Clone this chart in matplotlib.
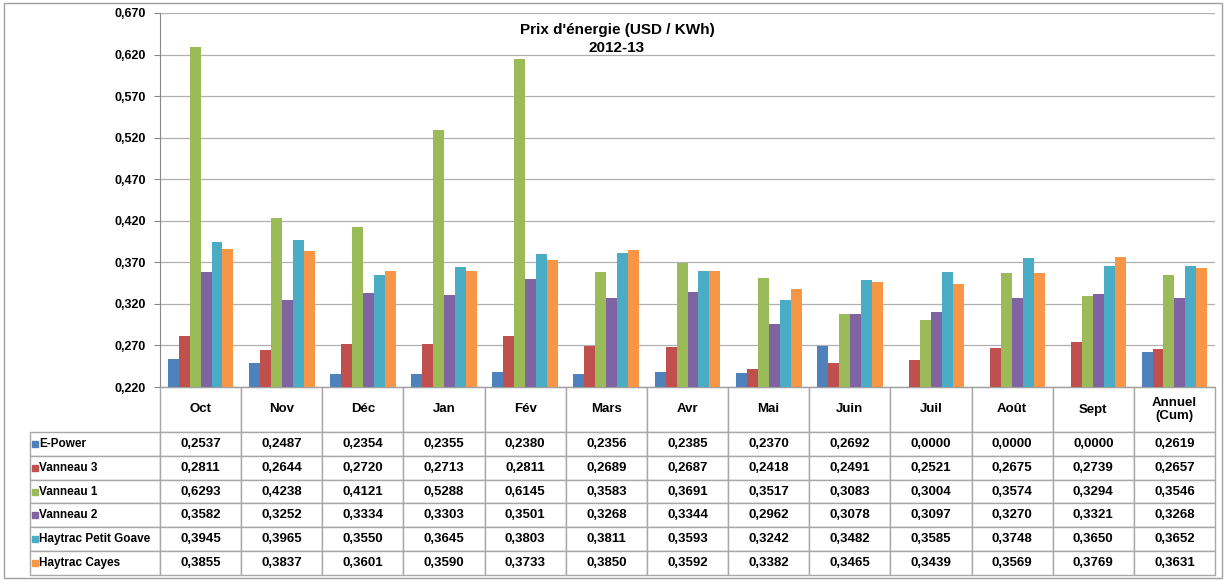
import numpy as np
import matplotlib
matplotlib.use('Agg')
import matplotlib.pyplot as plt
from matplotlib.patches import Rectangle
from matplotlib.ticker import FuncFormatter

# data
months = ['Oct', 'Nov', 'Déc', 'Jan', 'Fév', 'Mars', 'Avr', 'Mai', 'Juin',
          'Juil', 'Août', 'Sept', 'Annuel\n(Cum)']
series_names = ['E-Power', 'Vanneau 3', 'Vanneau 1', 'Vanneau 2',
                'Haytrac Petit Goave', 'Haytrac Cayes']
e_power = [0.2537, 0.2487, 0.2354, 0.2355, 0.2380, 0.2356, 0.2385, 0.2370,
           0.2692, 0.0000, 0.0000, 0.0000, 0.2619]
vanneau3 = [0.2811, 0.2644, 0.2720, 0.2713, 0.2811, 0.2689, 0.2687, 0.2418,
            0.2491, 0.2521, 0.2675, 0.2739, 0.2657]
vanneau1 = [0.6293, 0.4238, 0.4121, 0.5288, 0.6145, 0.3583, 0.3691, 0.3517,
            0.3083, 0.3004, 0.3574, 0.3294, 0.3546]
vanneau2 = [0.3582, 0.3252, 0.3334, 0.3303, 0.3501, 0.3268, 0.3344, 0.2962,
            0.3078, 0.3097, 0.3270, 0.3321, 0.3268]
petit_goave = [0.3945, 0.3965, 0.3550, 0.3645, 0.3803, 0.3811, 0.3593, 0.3242,
               0.3482, 0.3585, 0.3748, 0.3650, 0.3652]
cayes = [0.3855, 0.3837, 0.3601, 0.3590, 0.3733, 0.3850, 0.3592, 0.3382,
         0.3465, 0.3439, 0.3569, 0.3769, 0.3631]
series = [e_power, vanneau3, vanneau1, vanneau2, petit_goave, cayes]
colors = ['#4F81BD', '#C0504D', '#9BBB59', '#8064A2', '#4BACC6', '#F79646']

plt.rcParams['font.family'] = ['Liberation Sans', 'DejaVu Sans']
plt.rcParams['font.weight'] = 'bold'

W, H = 1226, 580
fig = plt.figure(figsize=(W / 100, H / 100), dpi=100)
ax_l, ax_r, ax_t, ax_b = 160, 1215, 13, 387
ax = fig.add_axes([ax_l / W, 1 - ax_b / H, (ax_r - ax_l) / W, (ax_b - ax_t) / H])

x = np.arange(len(months))
bw = 0.135
for i, (vals, c) in enumerate(zip(series, colors)):
    ax.bar(x + (i - 2.5) * bw, vals, bw, color=c, zorder=3)

ax.set_xlim(-0.5, len(months) - 0.5)
ax.set_ylim(0.22, 0.67)
ax.set_yticks(np.arange(0.22, 0.6701, 0.05))
ax.yaxis.set_major_formatter(FuncFormatter(lambda v, p: f'{v:.3f}'.replace('.', ',')))
ax.tick_params(axis='y', labelsize=9, length=4, color='#888888', pad=6)
ax.set_xticks([])
ax.grid(axis='y', color='#b0b0b0', lw=0.9, zorder=0)
for s in ['top', 'right']:
    ax.spines[s].set_visible(False)
ax.spines['left'].set_color('#888888')
ax.spines['bottom'].set_color('#a0a0a0')

fig.text(617 / W, 1 - 39 / H, "Prix d'énergie (USD / KWh)\n2012-13",
         ha='center', va='center', fontsize=11, fontweight='bold', linespacing=1.3)

# data table, first column holds the series names
fmt = lambda v: f'{v:.4f}'.replace('.', ',')
cell_text = [[name] + [fmt(v) for v in vals] for name, vals in zip(series_names, series)]
tb_top, tb_bot, tb_left = 387, 575, 30
ah = ax_b - ax_t
aw = ax_r - ax_l
tbl = ax.table(cellText=cell_text, colLabels=[''] + months, cellLoc='center',
               bbox=[(tb_left - ax_l) / aw, -(tb_bot - tb_top) / ah,
                     (ax_r - tb_left) / aw, (tb_bot - tb_top) / ah])
tbl.auto_set_font_size(False)
tbl.set_fontsize(9.5)
row_h = (575 - 432) / 6
for (r, c), cell in tbl.get_celld().items():
    cell.set_edgecolor('#a8a8a8')
    cell.set_linewidth(1.0)
    cell.get_text().set_fontweight('bold')
    cell.set_height(45 if r == 0 else row_h)
    cell.set_width(130 if c == 0 else 81.15)
    if c == 0:
        cell._loc = 'left'
        cell.get_text().set_ha('left')
        cell.get_text().set_fontsize(8.5)
        cell.PAD = 0.07
        if r == 0:
            cell.visible_edges = ''

for i, c in enumerate(colors):
    yc = 432 + row_h * (i + 0.5)
    fig.add_artist(Rectangle((32 / W, 1 - (yc + 3) / H), 6 / W, 6 / H,
                             transform=fig.transFigure, color=c))

fig.add_artist(Rectangle((4 / W, 2 / H), 1 - 8 / W, 1 - 5 / H,
                         transform=fig.transFigure, fill=False,
                         edgecolor='#a0a0a0', lw=1))

fig.savefig('out.png', dpi=100)
